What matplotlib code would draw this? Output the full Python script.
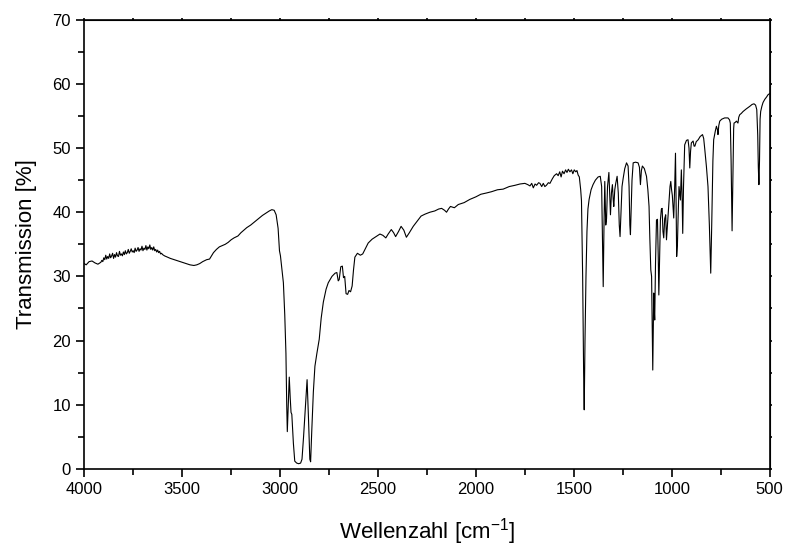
import matplotlib
matplotlib.use("Agg")
import matplotlib.pyplot as plt
from matplotlib.ticker import MultipleLocator

plt.rcParams['font.family'] = ['Liberation Sans', 'DejaVu Sans']
plt.rcParams['mathtext.default'] = 'regular'

# IR spectrum (wavenumber in cm^-1, transmission in %)
wavenumber = [
    4000, 3990, 3975, 3960, 3945, 3930,
    3915, 3910, 3905, 3900, 3895, 3890, 3885, 3880, 3875, 3870, 3865, 3860, 3855, 3850,
    3845, 3840, 3835, 3830, 3825, 3820, 3815, 3810, 3805, 3800, 3795, 3790, 3785, 3780,
    3775, 3770, 3765, 3760, 3755, 3750, 3745, 3740, 3735, 3730, 3725, 3720, 3715, 3710,
    3705, 3700, 3695, 3690, 3685, 3680, 3675, 3670, 3665, 3660, 3655, 3650, 3645, 3640,
    3635, 3630, 3625, 3620, 3615, 3610, 3605, 3600,
    3590, 3575, 3560, 3540, 3520, 3500, 3480, 3460, 3440, 3425, 3410, 3395, 3375,
    3360, 3350, 3340, 3325, 3310, 3295, 3280, 3265, 3250, 3235, 3215, 3200, 3185, 3170, 3150, 3130,
    3110, 3090, 3070, 3055, 3042, 3030, 3020, 3010, 3003, 2998, 2990, 2983, 2976, 2970, 2966, 2963,
    2958, 2953, 2948, 2944, 2940, 2932, 2925, 2915, 2905, 2895, 2888, 2880, 2870, 2862, 2855, 2848,
    2844, 2838, 2830, 2822, 2812, 2800, 2790, 2779, 2765, 2754, 2735, 2719, 2710, 2703, 2698, 2690,
    2682, 2676, 2670, 2663, 2655, 2648, 2640, 2632, 2625, 2618, 2605, 2590, 2578, 2565, 2550, 2530,
    2510, 2490, 2475, 2460, 2448, 2432, 2420, 2410, 2395, 2382, 2368, 2355, 2340, 2320, 2300, 2280,
    2260, 2235, 2210, 2190, 2175, 2160, 2150, 2140, 2130, 2110, 2090, 2060, 2031, 2000, 1975, 1946,
    1920, 1890, 1861, 1830, 1800, 1775, 1750, 1735, 1724, 1715, 1707, 1698, 1690, 1680, 1673, 1664,
    1656, 1648, 1640, 1630, 1622, 1610, 1600, 1588, 1580, 1572, 1565, 1558, 1550, 1542, 1535, 1528,
    1520, 1512, 1505, 1498, 1490, 1484, 1478, 1472, 1465, 1461, 1455, 1450, 1447, 1443, 1438, 1433,
    1428, 1422, 1412, 1402, 1390, 1376, 1365, 1358, 1354, 1350, 1346, 1342, 1337, 1333, 1328, 1321,
    1316, 1313, 1308, 1303, 1299, 1296, 1291, 1286, 1279, 1273, 1268, 1264, 1259, 1254, 1248, 1240,
    1231, 1223, 1218, 1214, 1211, 1207, 1203, 1197, 1185, 1172, 1165, 1160, 1155, 1150, 1140, 1129,
    1122, 1116, 1112, 1107, 1103, 1100, 1097, 1094, 1092, 1089, 1087, 1083, 1078, 1073, 1069, 1066,
    1062, 1058, 1053, 1049, 1045, 1041, 1036, 1031, 1027, 1022, 1014, 1009, 1005, 1001, 997, 993,
    990, 985, 981, 978, 975, 971, 968, 963, 956, 951, 947, 944, 940, 934, 925, 917,
    912, 908, 904, 900, 891, 886, 882, 875, 865, 855, 843, 837, 832, 823, 815, 808,
    801, 796, 790, 786, 778, 772, 767, 764, 760, 755, 745, 730, 713, 705, 701, 697,
    692, 688, 684, 682, 676, 670, 662, 658, 653, 645, 636, 620, 602, 590, 580, 572,
    566, 561, 558, 555, 552, 549, 546, 540, 534, 525, 515, 509, 500,
]
transmission = [
    32.0, 31.8, 32.3, 32.4, 32.1, 31.9,
    32.2, 32.5, 32.3, 32.9, 32.6, 33.3, 32.7, 33.1, 32.8, 33.5, 32.9, 33.2, 33.6, 32.8,
    33.4, 33.0, 33.7, 33.2, 33.1, 33.9, 33.3, 33.5, 33.2, 33.8, 33.4, 34.0, 33.5, 33.7,
    34.2, 33.6, 33.9, 34.3, 33.8, 34.0, 33.7, 34.4, 33.9, 34.1, 34.5, 33.9, 34.3, 34.1,
    34.7, 34.0, 34.4, 34.2, 34.8, 34.1, 34.6, 34.3, 34.9, 34.2, 34.5, 34.1, 34.6, 34.0,
    34.2, 33.8, 34.1, 33.7, 33.9, 33.5, 33.6, 33.4,
    33.2, 33.0, 32.8, 32.6, 32.4, 32.2, 32.0, 31.8, 31.7, 31.8, 32.0, 32.3, 32.6,
    32.7, 33.2, 33.7, 34.2, 34.6, 34.8, 35.0, 35.3, 35.7, 36.0, 36.3, 36.8, 37.2, 37.6, 38.0, 38.5,
    39.0, 39.5, 39.9, 40.2, 40.4, 40.3, 39.6, 37.5, 34.0, 33.2, 31.0, 29.0, 24.0, 18.0, 10.0, 5.8,
    10.0, 14.3, 11.0, 8.8, 8.5, 4.0, 1.2, 0.9, 0.8, 0.9, 1.5, 5.0, 10.0, 13.9, 8.0, 1.5,
    1.1, 6.0, 12.0, 16.0, 18.0, 20.2, 23.5, 26.0, 28.0, 29.0, 30.0, 30.5, 30.6, 29.3, 29.5, 31.5,
    31.6, 29.8, 30.0, 27.3, 27.2, 27.8, 27.6, 28.5, 31.0, 33.0, 33.6, 33.3, 33.5, 34.3, 35.2, 35.8,
    36.2, 36.6, 36.4, 36.0, 36.6, 37.3, 36.8, 36.2, 37.0, 37.8, 37.2, 36.1, 36.8, 37.8, 38.6, 39.4,
    39.7, 40.0, 40.2, 40.5, 40.6, 40.3, 40.0, 40.5, 40.9, 40.7, 41.2, 41.5, 42.0, 42.4, 42.8, 43.0,
    43.2, 43.5, 43.6, 44.0, 44.2, 44.4, 44.5, 44.3, 44.1, 44.5, 43.8, 44.4, 44.2, 44.6, 44.5, 44.0,
    44.5, 44.0, 44.2, 44.6, 44.5, 45.2, 45.7, 46.0, 45.7, 46.3, 45.5, 46.4, 46.0, 46.6, 46.2, 46.7,
    46.3, 46.6, 46.0, 46.6, 46.3, 46.5, 45.8, 45.5, 43.5, 41.8, 30.0, 15.0, 9.2, 20.0, 30.0, 37.0,
    40.5, 42.0, 43.5, 44.3, 45.0, 45.5, 45.6, 44.0, 36.0, 28.4, 38.0, 44.8, 38.0, 39.0, 44.0, 46.2,
    42.0, 39.6, 43.0, 44.3, 42.0, 40.9, 43.5, 44.5, 45.6, 43.0, 38.0, 36.2, 40.0, 44.0, 45.3, 46.8,
    47.7, 47.2, 44.0, 38.0, 36.5, 41.0, 45.0, 47.7, 47.8, 47.7, 47.0, 44.3, 46.5, 47.2, 46.8, 45.6,
    43.5, 40.9, 36.0, 31.0, 30.0, 22.0, 15.4, 22.0, 27.4, 24.5, 23.2, 32.0, 38.8, 38.9, 33.0, 27.1,
    33.0, 38.8, 40.5, 40.6, 37.0, 36.0, 39.0, 39.6, 35.7, 38.0, 41.9, 44.0, 44.8, 43.5, 42.6, 40.5,
    39.1, 44.0, 49.2, 42.0, 33.1, 35.0, 38.8, 44.0, 41.9, 46.6, 42.0, 36.7, 44.0, 50.5, 51.2, 51.3,
    50.0, 46.9, 49.5, 50.8, 51.1, 50.3, 50.3, 51.0, 51.3, 51.8, 52.1, 51.5, 50.0, 47.1, 44.0, 38.0,
    30.5, 38.0, 48.0, 51.3, 52.6, 53.4, 52.9, 52.1, 53.5, 54.2, 54.5, 54.7, 54.7, 54.4, 53.9, 48.0,
    37.1, 45.0, 53.0, 53.9, 54.0, 54.2, 53.9, 54.8, 55.2, 55.4, 55.7, 56.1, 56.5, 56.8, 56.9, 56.7,
    56.0, 52.0, 47.0, 44.3, 48.0, 54.5, 55.7, 56.5, 57.1, 57.6, 58.0, 58.3, 58.5,
]

fig = plt.figure(figsize=(7.87, 5.49), dpi=100)
ax = fig.add_axes([0.107, 0.146, 0.871, 0.818])

ax.plot(wavenumber, transmission, color='black', lw=0.8)

ax.set_xlim(4000, 500)
ax.set_ylim(0, 70)
ax.xaxis.set_major_locator(MultipleLocator(500))
ax.xaxis.set_minor_locator(MultipleLocator(250))
ax.yaxis.set_major_locator(MultipleLocator(10))
ax.yaxis.set_minor_locator(MultipleLocator(5))
ax.tick_params(which='both', direction='out', width=1.2, labelsize=12)
ax.tick_params(which='major', length=6)
ax.tick_params(which='minor', length=4)
for sp in ax.spines.values():
    sp.set_linewidth(1.2)

# tiny ticks on the top and right frame, no labels
top = ax.secondary_xaxis('top')
top.xaxis.set_major_locator(MultipleLocator(250))
top.tick_params(direction='out', length=1.5, width=1.2, labeltop=False)
right = ax.secondary_yaxis('right')
right.yaxis.set_major_locator(MultipleLocator(5))
right.tick_params(direction='out', length=1.5, width=1.2, labelright=False)

ax.set_xlabel('Wellenzahl [cm$^{-1}$]', fontsize=16, labelpad=14)
ax.set_ylabel('Transmission [%]', fontsize=16, labelpad=11)

fig.savefig('out.png', dpi=100)
